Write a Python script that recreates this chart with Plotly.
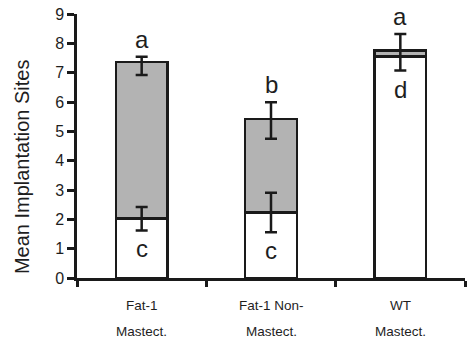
import plotly.graph_objects as go

categories = ["Fat-1 Mastect.", "Fat-1 Non-Mastect.", "WT Mastect."]
label_line1 = ["Fat-1", "Fat-1 Non-", "WT"]
label_line2 = ["Mastect.", "Mastect.", "Mastect."]
bottom_vals = [2.03, 2.23, 7.55]          # white segment (cumulative top)
total_vals = [7.36, 5.42, 7.76]           # gray segment top (cumulative)
bottom_err_plus = [0.39, 0.68, 0.0]
bottom_err_minus = [0.41, 0.67, 0.0]
total_err_plus = [0.18, 0.57, 0.56]
total_err_minus = [0.44, 0.67, 0.69]
top_letters = ["a", "b", "a"]
bottom_letters = ["c", "c", "d"]
y_ticks = list(range(0, 10))
y_title = "Mean Implantation Sites"

FONT = "Arial, Liberation Sans, sans-serif"
LINE = "#1a1a1a"
TXT = "#1e1e1e"

gray_heights = [t - b for t, b in zip(total_vals, bottom_vals)]

fig = go.Figure()
fig.add_trace(go.Bar(x=categories, y=bottom_vals, marker=dict(color="white", line=dict(color=LINE, width=2.5)),
                     width=0.4, showlegend=False))
fig.add_trace(go.Bar(x=categories, y=gray_heights, marker=dict(color="#b3b3b3", line=dict(color=LINE, width=2.5)),
                     width=0.4, showlegend=False))

bx = [c for c, e in zip(categories, bottom_err_plus) if e > 0]
by = [v for v, e in zip(bottom_vals, bottom_err_plus) if e > 0]
bp = [e for e in bottom_err_plus if e > 0]
bm = [m for m, e in zip(bottom_err_minus, bottom_err_plus) if e > 0]
fig.add_trace(go.Scatter(x=bx, y=by, mode="markers", marker=dict(opacity=0, size=1),
                         error_y=dict(type="data", symmetric=False, array=bp, arrayminus=bm,
                                      color=LINE, thickness=2.5, width=6),
                         showlegend=False, hoverinfo="skip"))
fig.add_trace(go.Scatter(x=categories, y=total_vals, mode="markers", marker=dict(opacity=0, size=1),
                         error_y=dict(type="data", symmetric=False, array=total_err_plus, arrayminus=total_err_minus,
                                      color=LINE, thickness=2.5, width=6),
                         showlegend=False, hoverinfo="skip"))

annotations = []
for i, c in enumerate(categories):
    ytop = total_vals[i] + total_err_plus[i]
    annotations.append(dict(x=c, y=ytop, xref="x", yref="y", text=top_letters[i], showarrow=False,
                            yanchor="bottom", yshift=2, font=dict(family=FONT, size=24, color=TXT)))
    if bottom_err_minus[i] > 0:
        ybot = bottom_vals[i] - bottom_err_minus[i]
    else:
        ybot = total_vals[i] - total_err_minus[i]
    annotations.append(dict(x=c, y=ybot, xref="x", yref="y", text=bottom_letters[i], showarrow=False,
                            yanchor="top", yshift=-3, font=dict(family=FONT, size=24, color=TXT)))
    annotations.append(dict(x=c, y=0, xref="x", yref="paper", text=label_line1[i], showarrow=False,
                            yanchor="middle", yshift=-27, font=dict(family=FONT, size=13.5, color=TXT)))
    annotations.append(dict(x=c, y=0, xref="x", yref="paper", text=label_line2[i], showarrow=False,
                            yanchor="middle", yshift=-53, font=dict(family=FONT, size=13.5, color=TXT)))

annotations.append(dict(x=0, y=0.42, xref="paper", yref="paper", text=y_title, textangle=-90, showarrow=False,
                        xanchor="center", yanchor="middle", xshift=-55,
                        font=dict(family=FONT, size=20, color=TXT)))

fig.update_layout(
    width=468, height=339, barmode="stack", bargap=0.6,
    margin=dict(l=77, r=3, t=14, b=61),
    plot_bgcolor="white", paper_bgcolor="white",
    font=dict(family=FONT, color=TXT),
    annotations=annotations,
    xaxis=dict(showticklabels=False, tickson="boundaries", ticks="outside", ticklen=6, tickwidth=2.5,
               tickcolor=LINE, showline=True, linecolor=LINE, linewidth=2.5, showgrid=False, zeroline=False,
               range=[-0.5, 2.5]),
    yaxis=dict(range=[0, 9], tickvals=y_ticks, ticks="outside", ticklen=7, tickwidth=2.5, tickcolor=LINE,
               showline=True, linecolor=LINE, linewidth=2.5, showgrid=False, zeroline=False,
               tickfont=dict(family=FONT, size=16, color=TXT)),
)

fig.write_html("out.html", config={"displayModeBar": False},
               post_script="document.body.style.margin='0';document.body.style.overflow='hidden';")
